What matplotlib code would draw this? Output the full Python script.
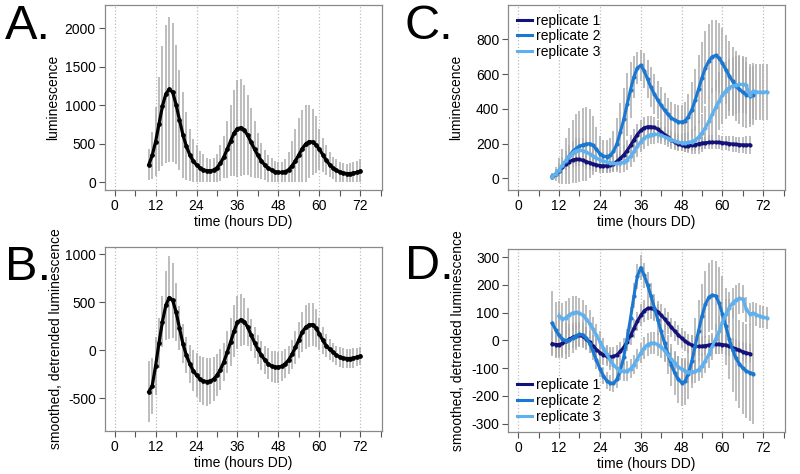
import matplotlib
matplotlib.use("Agg")
import matplotlib.pyplot as plt

plt.rcParams['font.family'] = ['Liberation Sans', 'DejaVu Sans']
plt.rcParams['axes.unicode_minus'] = False

# ---- panel A: mean luminescence (hourly, 10-72 h) ----
hours_ab = list(range(10, 73))
a_mean = [230, 350, 530, 760, 990, 1150, 1210, 1170, 1010, 810,
          620, 470, 360, 280, 225, 190, 165, 150, 150, 160,
          190, 250, 330, 430, 540, 640, 700, 710, 680, 610,
          520, 430, 350, 280, 225, 185, 160, 140, 130, 130,
          140, 165, 215, 280, 360, 440, 500, 530, 525, 490,
          430, 360, 290, 230, 185, 155, 135, 120, 115, 115,
          120, 130, 145]
a_sd = [200, 300, 450, 610, 780, 900, 940, 900, 770, 650,
        560, 440, 340, 280, 265, 220, 205, 170, 160, 160,
        180, 230, 270, 370, 460, 560, 630, 630, 590, 520,
        450, 370, 290, 230, 195, 175, 160, 140, 130, 140,
        170, 235, 325, 410, 470, 500, 500, 470, 425, 370,
        270, 220, 190, 160, 145, 145, 135, 130, 125, 135,
        140, 150, 155]

# ---- panel B: smoothed, detrended ----
b_mean = [-430, -370, -160, 80, 300, 470, 550, 520, 400, 230,
          70, -50, -140, -210, -260, -300, -320, -325, -320, -300,
          -260, -200, -120, -20, 90, 200, 290, 320, 300, 240,
          160, 80, 10, -50, -100, -140, -165, -175, -175, -165,
          -140, -100, -40, 30, 110, 190, 240, 265, 268, 235,
          170, 105, 50, 10, -20, -50, -70, -80, -85, -85,
          -80, -70, -60]
b_sd = [320, 295, 300, 260, 270, 360, 430, 390, 300, 230,
        200, 190, 200, 210, 230, 240, 250, 250, 240, 230,
        220, 210, 200, 220, 250, 270, 280, 270, 240, 200,
        170, 160, 150, 150, 150, 160, 160, 165, 160, 155,
        150, 150, 150, 170, 190, 210, 230, 230, 220, 200,
        170, 140, 120, 110, 100, 100, 100, 100, 100, 100,
        100, 95, 95]

# ---- panel C: replicates, raw luminescence ----
c_hours1 = list(range(10, 69))
c_rep1 = [10, 25, 45, 65, 82, 97, 106, 110, 109, 104,
          97, 90, 83, 78, 74, 72, 73, 77, 85, 98,
          115, 135, 160, 190, 222, 252, 276, 291, 297, 297,
          293, 283, 268, 252, 236, 221, 208, 198, 192, 189,
          188, 190, 194, 199, 203, 205, 207, 208, 208, 207,
          205, 203, 200, 198, 196, 194, 193, 192, 193]
c_sd1 = [10, 15, 20, 25, 30, 35, 40, 40, 40, 40,
         40, 40, 40, 40, 40, 40, 40, 40, 40, 45,
         50, 55, 60, 60, 60, 60, 60, 60, 60, 60,
         60, 55, 50, 45, 40, 35, 35, 35, 35, 35,
         35, 35, 35, 35, 35, 35, 40, 40, 40, 40,
         40, 40, 45, 45, 45, 45, 45, 50, 50]
c_hours2 = list(range(10, 70))
c_rep2 = [12, 25, 45, 70, 100, 130, 155, 172, 185, 193,
          198, 200, 190, 168, 142, 128, 126, 132, 155, 200,
          265, 340, 425, 510, 585, 635, 650, 620, 570, 525,
          485, 450, 420, 392, 368, 348, 335, 326, 324, 332,
          355, 395, 450, 515, 580, 635, 675, 700, 707, 692,
          662, 625, 590, 558, 532, 512, 495, 482, 476, 478]
c_sd2 = [20, 40, 70, 100, 130, 160, 180, 200, 205, 210,
         210, 200, 170, 130, 100, 95, 95, 100, 120, 150,
         170, 180, 180, 160, 120, 90, 90, 100, 110, 115,
         115, 110, 105, 100, 95, 90, 90, 95, 100, 110,
         130, 160, 180, 195, 205, 210, 210, 210, 205, 200,
         200, 200, 200, 200, 200, 200, 200, 190, 180, 170]
c_hours3 = list(range(10, 74))
c_rep3 = [10, 28, 50, 78, 105, 130, 148, 160, 163, 160,
          152, 140, 128, 117, 108, 100, 94, 90, 87, 86,
          88, 95, 108, 128, 155, 185, 212, 232, 245, 252,
          255, 253, 248, 240, 231, 222, 214, 208, 205, 205,
          207, 212, 222, 238, 262, 292, 328, 368, 408, 445,
          478, 505, 522, 532, 537, 540, 540, 535, 478, 502,
          498, 495, 495, 498]
c_sd3 = [15, 25, 35, 45, 55, 60, 65, 70, 70, 70,
         70, 65, 60, 55, 50, 50, 50, 50, 50, 50,
         55, 60, 60, 60, 60, 60, 60, 60, 60, 55,
         55, 50, 50, 50, 50, 50, 50, 50, 50, 55,
         60, 70, 80, 95, 110, 125, 140, 150, 160, 165,
         165, 165, 165, 165, 165, 165, 165, 165, 165, 160,
         160, 160, 160, 160]

# ---- panel D: replicates, smoothed & detrended ----
d_hours1 = list(range(10, 69))
d_rep1 = [-12, -15, -15, -11, -4, 4, 11, 16, 18, 14,
          5, -7, -20, -33, -44, -52, -57, -60, -58, -52,
          -40, -25, -5, 18, 43, 68, 90, 106, 115, 116,
          112, 103, 91, 77, 62, 47, 33, 20, 8, -2,
          -11, -17, -21, -22, -21, -19, -17, -15, -14, -14,
          -15, -17, -21, -26, -31, -36, -41, -45, -48]
d_sd1 = [45, 45, 45, 45, 45, 40, 40, 40, 40, 40,
         40, 40, 40, 40, 40, 35, 35, 35, 35, 35,
         35, 35, 35, 35, 35, 35, 40, 40, 40, 40,
         40, 40, 40, 40, 40, 35, 35, 35, 35, 35,
         35, 35, 35, 35, 35, 35, 35, 35, 35, 35,
         35, 35, 35, 35, 35, 35, 35, 35, 35]
d_hours2 = list(range(10, 70))
d_rep2 = [62, 38, 18, 5, -2, 0, 8, 17, 22, 20,
          8, -12, -40, -72, -102, -127, -145, -154, -155, -140,
          -110, -60, 5, 80, 160, 230, 262, 235, 200, 160,
          118, 75, 32, -10, -50, -88, -118, -140, -152, -148,
          -120, -75, -20, 35, 88, 130, 155, 163, 160, 135,
          95, 50, 5, -35, -65, -85, -100, -110, -116, -120]
d_sd2 = [115, 100, 80, 70, 65, 60, 55, 50, 45, 45,
         40, 35, 30, 30, 30, 30, 30, 30, 30, 30,
         30, 30, 35, 40, 45, 45, 45, 45, 45, 45,
         50, 55, 60, 65, 70, 75, 80, 85, 85, 85,
         90, 95, 100, 110, 115, 120, 125, 125, 125, 130,
         135, 140, 145, 150, 155, 160, 165, 170, 175, 180]
d_hours3 = list(range(12, 74))
d_rep3 = [88, 76, 82, 92, 99, 101, 98, 90, 77, 60,
          40, 18, -5, -28, -50, -70, -88, -101, -109, -112,
          -110, -102, -87, -67, -45, -27, -15, -10, -10, -15,
          -25, -38, -53, -68, -82, -95, -104, -110, -113, -114,
          -112, -105, -92, -73, -50, -22, 5, 32, 65, 95,
          118, 135, 146, 151, 148, 112, 95, 98, 93, 86,
          83, 81]
d_sd3 = [55, 60, 60, 60, 60, 60, 55, 55, 50, 50,
         45, 40, 40, 35, 35, 35, 35, 35, 35, 35,
         35, 35, 35, 35, 35, 40, 40, 40, 40, 40,
         40, 40, 40, 40, 40, 40, 40, 40, 40, 40,
         40, 40, 45, 45, 50, 50, 55, 55, 55, 55,
         55, 55, 55, 55, 50, 45, 40, 40, 40, 40,
         40, 40]

rep_labels = ['replicate 1', 'replicate 2', 'replicate 3']
rep_colors = ['#12127a', '#1a78d2', '#5eb0ee']
err_color = '#ababab'
xlabel = 'time (hours DD)'
fs = 10

fig = plt.figure(figsize=(8, 4.74), dpi=100)

ax_a = fig.add_axes([0.131, 0.599, 0.3466, 0.3897])
ax_b = fig.add_axes([0.131, 0.0907, 0.3466, 0.3882])
ax_c = fig.add_axes([0.6354, 0.599, 0.3459, 0.3897])
ax_d = fig.add_axes([0.6354, 0.0886, 0.3459, 0.3867])


def style_axes(ax, ylim, yticks, ylabel, ylab_x):
    ax.set_xlim(-2.9, 78.4)
    ax.set_ylim(*ylim)
    for x in range(0, 73, 12):
        ax.axvline(x, color='#bdbdbd', ls=':', lw=0.9, zorder=0)
    xt = list(range(0, 79, 6))
    ax.set_xticks(xt)
    ax.set_xticklabels([str(x) if x % 12 == 0 and x <= 72 else '' for x in xt])
    ax.set_yticks(yticks)
    ax.set_yticklabels([str(y) for y in yticks])
    ax.tick_params(direction='out', length=4, width=0.8, color='#555555',
                   labelsize=fs, pad=2.5)
    for s in ax.spines.values():
        s.set_color('#8a8a8a')
        s.set_linewidth(0.9)
    ax.set_xlabel(xlabel, fontsize=fs, labelpad=1.5)
    ax.set_ylabel(ylabel, fontsize=fs)
    ax.yaxis.set_label_coords(ylab_x, 0.5)


def draw_errs(ax, hrs, vals, sd, floor=None):
    if floor is None:
        err = sd
    else:
        # raw luminescence can't go below zero
        err = [[min(s, v - floor) for v, s in zip(vals, sd)], sd]
    ax.errorbar(hrs, vals, yerr=err, fmt='none', ecolor=err_color,
                elinewidth=1.1, capsize=0, zorder=1)


# A
draw_errs(ax_a, hours_ab, a_mean, a_sd, floor=0)
ax_a.plot(hours_ab, a_mean, '-o', color='black', lw=2.3, ms=2.4, zorder=3)
style_axes(ax_a, (-100, 2300), [0, 500, 1000, 1500, 2000], 'luminescence', -0.16)

# B
draw_errs(ax_b, hours_ab, b_mean, b_sd)
ax_b.plot(hours_ab, b_mean, '-o', color='black', lw=2.3, ms=2.4, zorder=3)
style_axes(ax_b, (-840, 1076), [-500, 0, 500, 1000],
           'smoothed, detrended luminescence', -0.152)

# C
c_sets = [(c_hours1, c_rep1, c_sd1), (c_hours2, c_rep2, c_sd2), (c_hours3, c_rep3, c_sd3)]
for hrs, vals, sd in c_sets:
    draw_errs(ax_c, hrs, vals, sd)
for (hrs, vals, sd), col, lab in zip(c_sets, rep_colors, rep_labels):
    ax_c.plot(hrs, vals, '-o', color=col, lw=2.2, ms=2.0, zorder=3)
    ax_c.plot([], [], '-', color=col, lw=2.2, label=lab)
style_axes(ax_c, (-67, 995), [0, 200, 400, 600, 800], 'luminescence', -0.164)
ax_c.legend(loc='upper left', bbox_to_anchor=(0.0, 1.0), frameon=False,
            fontsize=fs, handlelength=1.1, handletextpad=0.3,
            labelspacing=0.12, borderpad=0.4, borderaxespad=0.2)

# D
d_sets = [(d_hours1, d_rep1, d_sd1), (d_hours2, d_rep2, d_sd2), (d_hours3, d_rep3, d_sd3)]
for hrs, vals, sd in d_sets:
    draw_errs(ax_d, hrs, vals, sd)
for (hrs, vals, sd), col, lab in zip(d_sets, rep_colors, rep_labels):
    ax_d.plot(hrs, vals, '-o', color=col, lw=2.2, ms=2.0, zorder=3)
    ax_d.plot([], [], '-', color=col, lw=2.2, label=lab)
style_axes(ax_d, (-330, 330), [-300, -200, -100, 0, 100, 200, 300],
           'smoothed, detrended luminescence', -0.157)
ax_d.legend(loc='lower left', bbox_to_anchor=(0.0, 0.0), frameon=False,
            fontsize=fs, handlelength=1.1, handletextpad=0.3,
            labelspacing=0.12, borderpad=0.4, borderaxespad=0.2)

# panel letters
for lbl, x, y in [('A.', 0.006, 0.918), ('B.', 0.006, 0.409),
                  ('C.', 0.506, 0.918), ('D.', 0.506, 0.412)]:
    fig.text(x, y, lbl, fontsize=35, va='baseline', ha='left')

fig.savefig('out.png', dpi=100)
